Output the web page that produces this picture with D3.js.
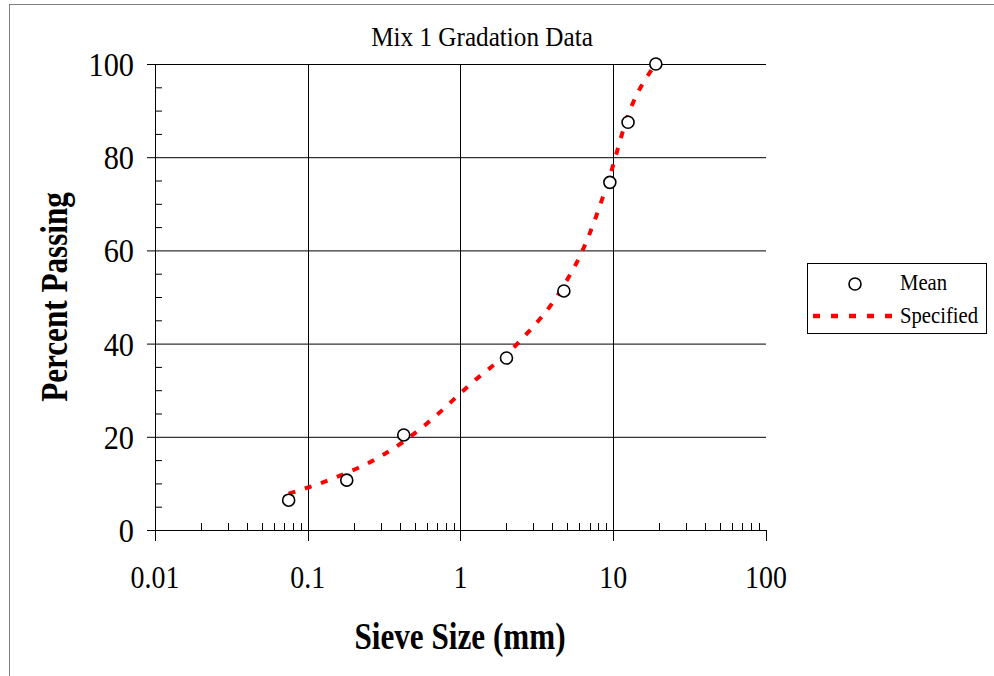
<!DOCTYPE html>
<html lang="en">
<head>
<meta charset="UTF-8">
<title>Mix 1 Gradation Data</title>
<script src="https://d3js.org/d3.v7.min.js"></script>
<style>
    body, html { margin: 0; padding: 0; overflow: hidden; background: #fff; }
    svg { display: block; }
    text { font-family: "Liberation Serif", "Times New Roman", serif; fill: #000; }
</style>
</head>
<body>
<svg width="994" height="676"></svg>
<script>
    // sieve sizes (mm) and mean percent passing
    const meanSizes = [0.075, 0.18, 0.425, 2.0, 4.75, 9.5, 12.5, 19];
    const meanPassing = [6.4, 10.7, 20.4, 36.9, 51.3, 74.6, 87.5, 100];

    // specified gradation curve
    const specSizes = [0.075, 0.15, 0.3, 0.425, 0.6, 1.18, 2.36, 4.75, 6.3, 9.5, 12.5, 19];
    const specPassing = [7.8, 11.2, 15.8, 19, 22.8, 31.5, 40, 52.5, 60, 76, 89, 100];

    const xTickValues = [0.01, 0.1, 1, 10, 100];
    const xTickLabels = ['0.01', '0.1', '1', '10', '100'];
    const yTickValues = [0, 20, 40, 60, 80, 100];

    const svg = d3.select('svg');

    // outer frame
    svg.append('rect')
        .attr('x', 9.5).attr('y', 4.5)
        .attr('width', 994).attr('height', 680)
        .attr('fill', '#fff').attr('stroke', '#808080').attr('stroke-width', 1);

    const x = d3.scaleLog().domain([0.01, 100]).range([155, 766]);
    const y = d3.scaleLinear().domain([0, 100]).range([530, 64]);

    // gridlines
    const grid = svg.append('g');
    grid.selectAll('.hgrid')
        .data(yTickValues.filter(d => d > 0))
        .enter().append('line')
        .attr('x1', x(0.01)).attr('x2', x(100))
        .attr('y1', d => y(d) + 0.5).attr('y2', d => y(d) + 0.5)
        .attr('stroke', '#000').attr('stroke-width', 1);
    grid.selectAll('.vgrid')
        .data([0.1, 1, 10])
        .enter().append('line')
        .attr('x1', d => Math.round(x(d)) + 0.5).attr('x2', d => Math.round(x(d)) + 0.5)
        .attr('y1', y(100)).attr('y2', y(0))
        .attr('stroke', '#000').attr('stroke-width', 1);

    // y axis: major ticks outside, minor ticks inside
    const yAxis = svg.append('g');
    yAxis.append('line')
        .attr('x1', 155.5).attr('x2', 155.5)
        .attr('y1', y(100)).attr('y2', y(0))
        .attr('stroke', '#000');
    yAxis.selectAll('.ymaj')
        .data(yTickValues)
        .enter().append('line')
        .attr('x1', 147).attr('x2', 155)
        .attr('y1', d => y(d) + 0.5).attr('y2', d => y(d) + 0.5)
        .attr('stroke', '#000');
    yAxis.selectAll('.ymin')
        .data(d3.range(5, 100, 5).filter(d => d % 20 !== 0))
        .enter().append('line')
        .attr('x1', 155).attr('x2', 162)
        .attr('y1', d => y(d) + 0.5).attr('y2', d => y(d) + 0.5)
        .attr('stroke', '#000');
    yAxis.selectAll('.ylab')
        .data(yTickValues)
        .enter().append('text')
        .attr('transform', d => `translate(134,${y(d) + 12}) scale(0.92,1)`)
        .attr('text-anchor', 'end')
        .style('font-size', '33px')
        .text(d => d);

    // x axis: major ticks outside, minor ticks inside
    const xAxis = svg.append('g');
    xAxis.append('line')
        .attr('x1', 147).attr('x2', x(100))
        .attr('y1', 530.5).attr('y2', 530.5)
        .attr('stroke', '#000');
    xAxis.selectAll('.xmaj')
        .data(xTickValues)
        .enter().append('line')
        .attr('x1', d => Math.round(x(d)) + 0.5).attr('x2', d => Math.round(x(d)) + 0.5)
        .attr('y1', 530).attr('y2', 541)
        .attr('stroke', '#000');
    const minorX = x.ticks().filter(d => !xTickValues.some(m => Math.abs(m - d) < 1e-9));
    xAxis.selectAll('.xmin')
        .data(minorX)
        .enter().append('line')
        .attr('x1', d => Math.round(x(d)) + 0.5).attr('x2', d => Math.round(x(d)) + 0.5)
        .attr('y1', 523).attr('y2', 530)
        .attr('stroke', '#000');
    xAxis.selectAll('.xlab')
        .data(xTickValues)
        .enter().append('text')
        .attr('transform', d => `translate(${x(d)},588) scale(0.9,1)`)
        .attr('text-anchor', 'middle')
        .style('font-size', '31px')
        .text((d, i) => xTickLabels[i]);

    // specified curve
    const spec = specSizes.map((s, i) => ({ s: s, p: specPassing[i] }));
    const line = d3.line()
        .x(d => x(d.s)).y(d => y(d.p))
        .curve(d3.curveMonotoneX);
    svg.append('path')
        .datum(spec)
        .attr('d', line)
        .attr('fill', 'none')
        .attr('stroke', '#ff0000')
        .attr('stroke-width', 4)
        .attr('stroke-dasharray', '7,10');

    // mean markers
    const mean = meanSizes.map((s, i) => ({ s: s, p: meanPassing[i] }));
    svg.append('g').selectAll('circle')
        .data(mean)
        .enter().append('circle')
        .attr('cx', d => x(d.s)).attr('cy', d => y(d.p))
        .attr('r', 6)
        .attr('fill', '#fff').attr('stroke', '#000').attr('stroke-width', 1.6);

    // titles
    svg.append('text')
        .attr('transform', 'translate(482,46) scale(0.9,1)')
        .attr('text-anchor', 'middle')
        .style('font-size', '28px')
        .text('Mix 1 Gradation Data');
    svg.append('text')
        .attr('transform', 'translate(460,649) scale(0.82,1)')
        .attr('text-anchor', 'middle')
        .style('font-size', '38px').style('font-weight', 'bold')
        .text('Sieve Size (mm)');
    svg.append('text')
        .attr('transform', 'translate(67,297) rotate(-90) scale(0.82,1)')
        .attr('text-anchor', 'middle')
        .style('font-size', '38px').style('font-weight', 'bold')
        .text('Percent Passing');

    // legend
    const legend = svg.append('g');
    legend.append('rect')
        .attr('x', 807.5).attr('y', 263.5)
        .attr('width', 179).attr('height', 70)
        .attr('fill', '#fff').attr('stroke', '#000');
    legend.append('circle')
        .attr('cx', 855).attr('cy', 284).attr('r', 6)
        .attr('fill', '#fff').attr('stroke', '#000').attr('stroke-width', 1.6);
    legend.append('text')
        .attr('transform', 'translate(900,290) scale(0.9,1)')
        .style('font-size', '23px')
        .text('Mean');
    legend.append('line')
        .attr('x1', 813).attr('x2', 899)
        .attr('y1', 316).attr('y2', 316)
        .attr('stroke', '#ff0000').attr('stroke-width', 4.5)
        .attr('stroke-dasharray', '7,11');
    legend.append('text')
        .attr('transform', 'translate(900,323) scale(0.9,1)')
        .style('font-size', '23px')
        .text('Specified');
</script>
</body>
</html>
